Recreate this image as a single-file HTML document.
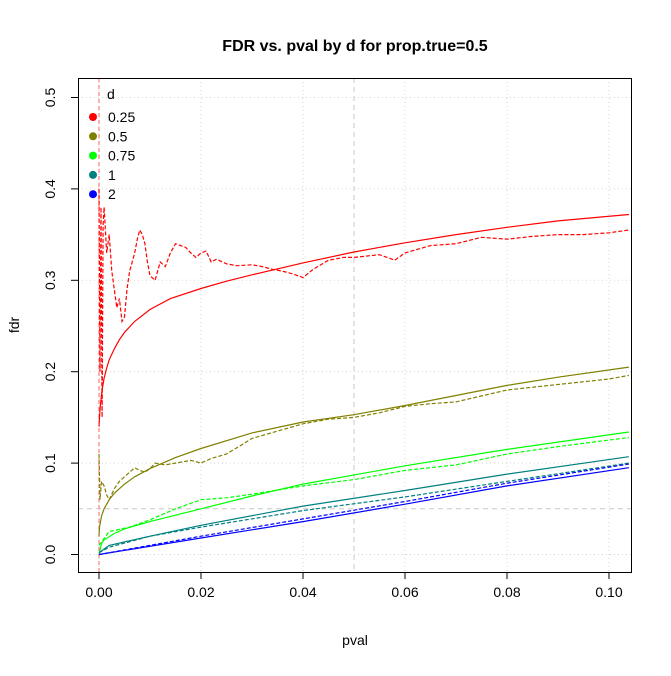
<!DOCTYPE html>
<html><head><meta charset="utf-8"><style>
body{margin:0;background:#fff}
text{font-family:"Liberation Sans",sans-serif}
</style></head><body>
<svg id="chart" width="671" height="671" xmlns="http://www.w3.org/2000/svg">
<rect width="671" height="671" fill="#fff"/>
<text x="355" y="51" text-anchor="middle" font-size="16" font-weight="bold">FDR vs. pval by d for prop.true=0.5</text>
<text x="355" y="645" text-anchor="middle" font-size="14">pval</text>
<text x="19" y="325" text-anchor="middle" font-size="14" transform="rotate(-90 19 325)">fdr</text>
<g id="grid"></g><g id="series"></g><g id="axes"></g>
<rect x="78.5" y="78.5" width="553" height="494" fill="none" stroke="#000"/>
<g id="legend"></g>
</svg>
<script>
const xTicks=[0,0.02,0.04,0.06,0.08,0.10];
const xTickLabels=["0.00","0.02","0.04","0.06","0.08","0.10"];
const yTicks=[0,0.1,0.2,0.3,0.4,0.5];
const yTickLabels=["0.0","0.1","0.2","0.3","0.4","0.5"];
const legendLabels=["0.25","0.5","0.75","1","2"];
const colors=["#ff0000","#808000","#00ff00","#008080","#0000ff"];
const redSolidX=[0,0.0001,0.0003,0.0006,0.001,0.0015,0.002,0.003,0.004,0.005,0.007,0.01,0.014,0.02,0.025,0.03,0.04,0.05,0.06,0.07,0.08,0.09,0.104];
const redSolidY=[0.14,0.15,0.165,0.18,0.193,0.204,0.213,0.225,0.235,0.243,0.255,0.268,0.28,0.291,0.299,0.306,0.319,0.331,0.341,0.35,0.358,0.365,0.372];
const redDashX=[0,0.0002,0.0004,0.0006,0.0008,0.001,0.0015,0.002,0.0025,0.003,0.0035,0.004,0.0045,0.005,0.0055,0.006,0.0065,0.007,0.0075,0.008,0.0085,0.009,0.0095,0.01,0.011,0.012,0.013,0.014,0.015,0.016,0.017,0.018,0.019,0.02,0.021,0.022,0.023,0.025,0.027,0.03,0.032,0.034,0.036,0.038,0.04,0.042,0.045,0.048,0.05,0.055,0.058,0.06,0.065,0.07,0.075,0.08,0.085,0.09,0.095,0.1,0.104];
const redDashY=[0.4,0.2,0.38,0.15,0.36,0.38,0.33,0.35,0.31,0.29,0.27,0.28,0.255,0.26,0.29,0.31,0.32,0.33,0.345,0.355,0.35,0.34,0.32,0.305,0.3,0.32,0.315,0.33,0.34,0.338,0.336,0.33,0.325,0.33,0.332,0.32,0.323,0.318,0.316,0.317,0.315,0.312,0.31,0.307,0.303,0.312,0.322,0.325,0.325,0.328,0.322,0.33,0.338,0.34,0.347,0.345,0.348,0.35,0.35,0.352,0.355];
const oliveSolidX=[0,0.0001,0.0005,0.001,0.002,0.003,0.005,0.007,0.01,0.015,0.02,0.03,0.04,0.05,0.06,0.07,0.08,0.09,0.104];
const oliveSolidY=[0.02,0.03,0.042,0.05,0.06,0.067,0.077,0.085,0.094,0.106,0.116,0.133,0.145,0.153,0.163,0.174,0.185,0.194,0.205];
const oliveDashX=[0,0.0002,0.0005,0.001,0.0015,0.002,0.003,0.004,0.005,0.006,0.007,0.008,0.009,0.01,0.011,0.013,0.015,0.018,0.02,0.022,0.025,0.028,0.03,0.035,0.04,0.045,0.05,0.055,0.06,0.065,0.07,0.08,0.09,0.1,0.104];
const oliveDashY=[0.11,0.06,0.08,0.075,0.065,0.06,0.072,0.08,0.085,0.09,0.095,0.092,0.09,0.094,0.1,0.098,0.1,0.103,0.1,0.105,0.11,0.12,0.127,0.135,0.143,0.148,0.15,0.155,0.162,0.165,0.167,0.18,0.186,0.192,0.196];
const greenSolidX=[0,0.0005,0.001,0.003,0.005,0.01,0.02,0.03,0.04,0.06,0.08,0.104];
const greenSolidY=[0,0.012,0.016,0.023,0.028,0.036,0.05,0.064,0.077,0.097,0.115,0.134];
const greenDashX=[0,0.002,0.006,0.01,0.015,0.02,0.025,0.03,0.04,0.05,0.06,0.07,0.08,0.09,0.104];
const greenDashY=[0.01,0.025,0.03,0.038,0.05,0.06,0.062,0.066,0.075,0.082,0.092,0.098,0.11,0.118,0.128];
const tealSolidX=[0,0.002,0.01,0.02,0.04,0.06,0.08,0.104];
const tealSolidY=[0.002,0.01,0.02,0.032,0.053,0.07,0.088,0.107];
const tealDashX=[0,0.002,0.01,0.02,0.04,0.06,0.08,0.104];
const tealDashY=[0.002,0.008,0.02,0.03,0.048,0.063,0.08,0.1];
const blueSolidX=[0,0.02,0.04,0.06,0.08,0.104];
const blueSolidY=[0,0.018,0.036,0.055,0.075,0.095];
const blueDashX=[0,0.02,0.04,0.06,0.08,0.104];
const blueDashY=[0,0.02,0.039,0.058,0.078,0.099];
const refX=0.05, refY=0.05, redVX=0;

const NS="http://www.w3.org/2000/svg";
const X=v=>99+v*5100;
const Y=v=>554.5-v*914;
function mk(t,a,p){const e=document.createElementNS(NS,t);for(const k in a)e.setAttribute(k,a[k]);p.appendChild(e);return e;}
const grid=document.getElementById('grid'),axes=document.getElementById('axes'),ser=document.getElementById('series'),leg=document.getElementById('legend');
xTicks.forEach((v,i)=>{
 const g=mk('line',{x1:X(v),x2:X(v),y1:78,y2:572,stroke:'#d3d3d3','stroke-dasharray':'1,3'},grid);
 
 
 const t=mk('line',{x1:X(v),x2:X(v),y1:572,y2:579,stroke:'#000'},axes);
 
 
 const l=mk('text',{x:X(v),y:597,'text-anchor':'middle','font-size':14},axes);l.textContent=xTickLabels[i];
 
 
});
yTicks.forEach((v,i)=>{
 const g=mk('line',{x1:78,x2:631,y1:Y(v),y2:Y(v),stroke:'#d3d3d3','stroke-dasharray':'1,3'},grid);
 
 
 const t=mk('line',{x1:71,x2:78,y1:Y(v),y2:Y(v),stroke:'#000'},axes);
 
 
 const l=mk('text',{x:55,y:Y(v),'text-anchor':'middle','font-size':14,transform:`rotate(-90 55 ${Y(v)})`},axes);l.textContent=yTickLabels[i];
 
 
});
let r=mk('line',{x1:X(refX),x2:X(refX),y1:78,y2:572,stroke:'#c8c8c8','stroke-dasharray':'5,4'},grid);


r=mk('line',{x1:78,x2:631,y1:Y(refY),y2:Y(refY),stroke:'#c8c8c8','stroke-dasharray':'5,4'},grid);


r=mk('line',{x1:X(redVX),x2:X(redVX),y1:78,y2:572,stroke:'#ff6060','stroke-dasharray':'4,3'},grid);


const sets=[[redSolidX,redSolidY,0,0,'d-0.25-theory'],[redDashX,redDashY,0,1,'d-0.25-observed'],
[oliveSolidX,oliveSolidY,1,0,'d-0.5-theory'],[oliveDashX,oliveDashY,1,1,'d-0.5-observed'],
[greenSolidX,greenSolidY,2,0,'d-0.75-theory'],[greenDashX,greenDashY,2,1,'d-0.75-observed'],
[tealSolidX,tealSolidY,3,0,'d-1-theory'],[tealDashX,tealDashY,3,1,'d-1-observed'],
[blueSolidX,blueSolidY,4,0,'d-2-theory'],[blueDashX,blueDashY,4,1,'d-2-observed']];
sets.forEach(([xs,ys,c,d,n])=>{
 const pts=xs.map((x,i)=>X(Math.min(x,0.1039)).toFixed(1)+','+Y(ys[i]).toFixed(1)).join(' ');
 const a={points:pts,fill:'none',stroke:colors[c],'stroke-width':1.2};
 if(d)a['stroke-dasharray']='4,2';
 const p=mk('polyline',a,ser);
 
 
});
const lt=mk('text',{x:107,y:99,'font-size':14},leg);lt.textContent='d';


legendLabels.forEach((s,i)=>{
 const yy=117+i*19.3;
 const c=mk('circle',{cx:93,cy:yy,r:4,fill:colors[i]},leg);
 
 
 const t=mk('text',{x:108,y:yy+5,'font-size':14},leg);t.textContent=s;
 
 
});
</script>
</body></html>
